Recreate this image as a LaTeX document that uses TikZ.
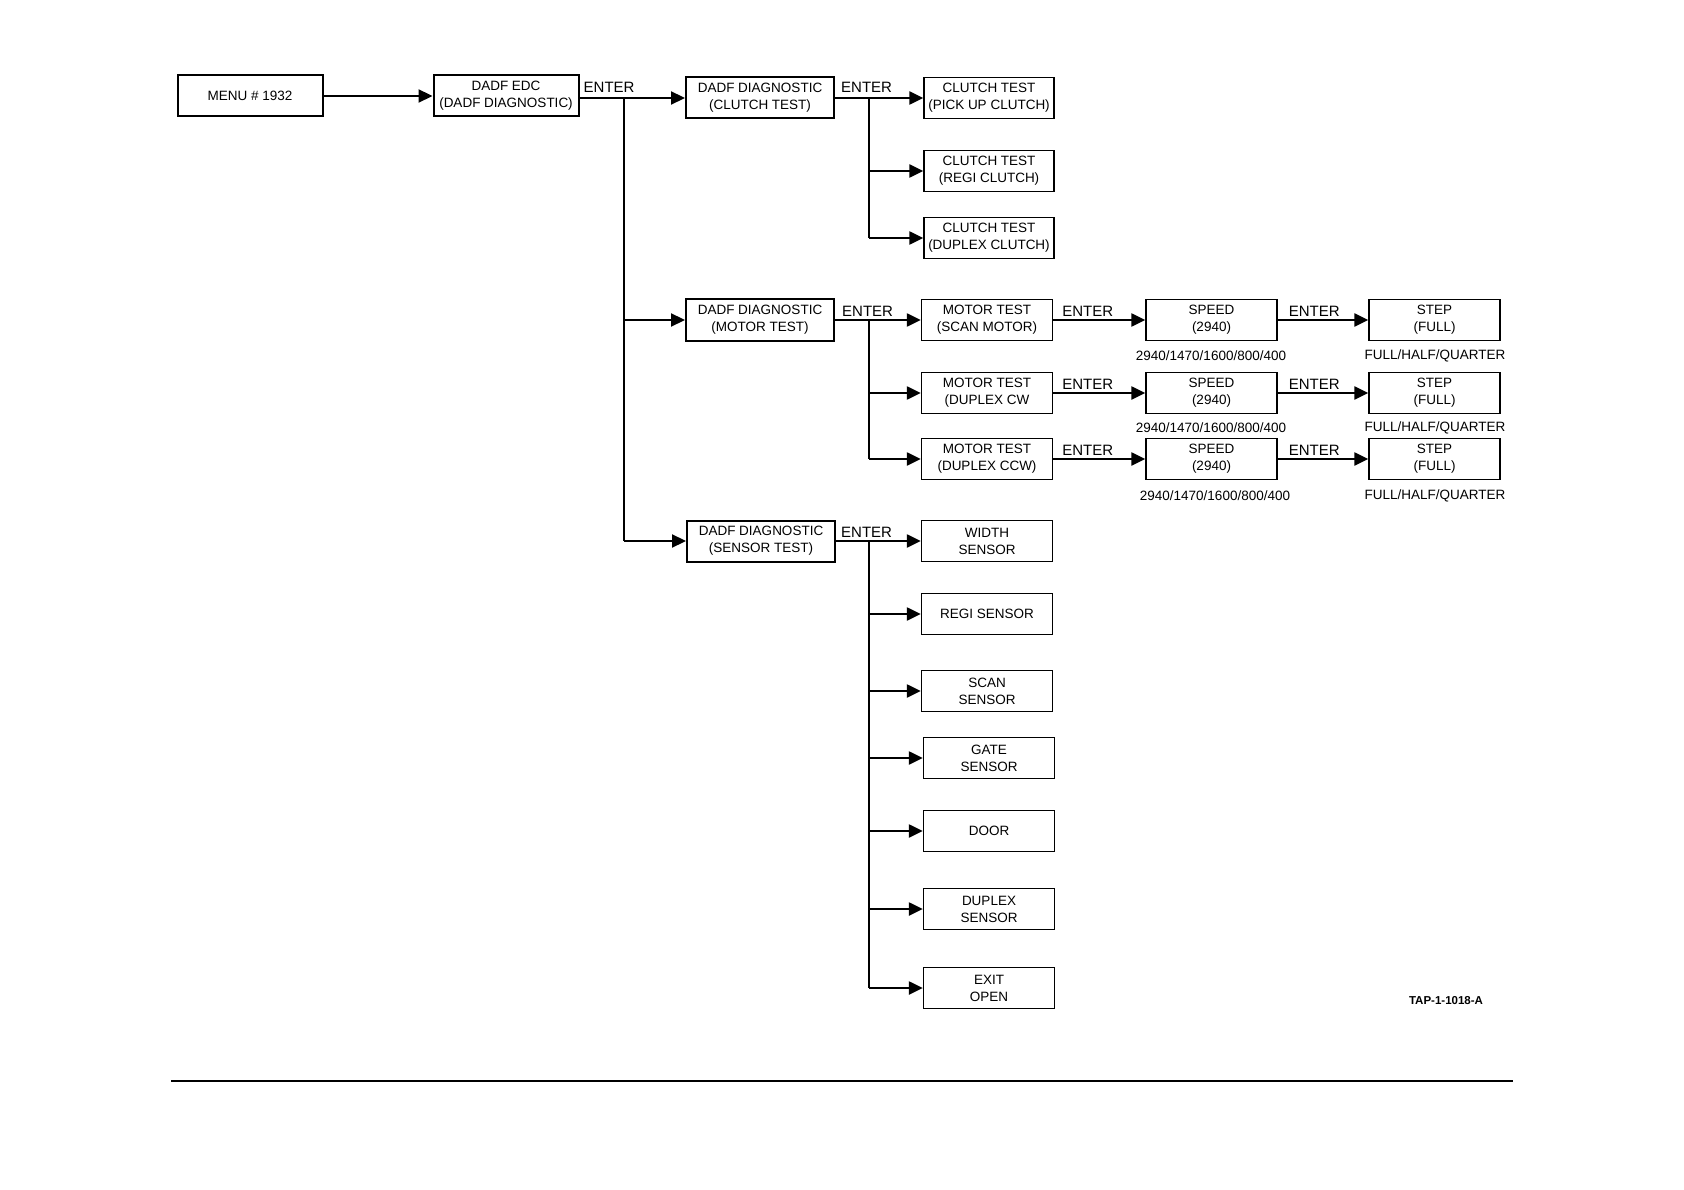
\documentclass[tikz,border=0pt]{standalone}
\usepackage{fontspec}
\setmainfont{Liberation Sans}
\usetikzlibrary{arrows.meta}
\newcommand{\bxf}{\fontsize{13.5}{17}\selectfont}
\newcommand{\enf}{\fontsize{15}{17}\selectfont}
\begin{document}
\begin{tikzpicture}[x=1pt,y=-1pt,
  box/.style={draw, line width=1.3pt, align=center, font=\bxf, inner sep=0pt, minimum height=41pt, minimum width=131pt},
  hbox/.style={box, line width=2pt, minimum width=148pt},
  arr/.style={line width=2.2pt, -{Triangle[length=14pt,width=13pt]}},
  ln/.style={line width=2.2pt},
  ent/.style={font=\enf, anchor=south west, inner sep=0pt},
  sub/.style={font=\bxf, inner sep=0pt}]
\useasboundingbox (0,0) rectangle (1684,1190);
% level nodes
\node[hbox, minimum width=145pt] (menu) at (250,96) {MENU \# 1932};
\node[hbox, minimum width=145pt] (edc) at (506,96) {DADF EDC\\(DADF DIAGNOSTIC)};
\node[hbox] (cd) at (760,98) {DADF DIAGNOSTIC\\(CLUTCH TEST)};
\node[hbox] (md) at (760,320) {DADF DIAGNOSTIC\\(MOTOR TEST)};
\node[hbox] (sd) at (761,541) {DADF DIAGNOSTIC\\(SENSOR TEST)};
% clutch
\node[box, minimum width=130pt] (ct1) at (989,98) {CLUTCH TEST\\(PICK UP CLUTCH)};
\node[box, minimum width=130pt] (ct2) at (989,171) {CLUTCH TEST\\(REGI CLUTCH)};
\node[box, minimum width=130pt] (ct3) at (989,238) {CLUTCH TEST\\(DUPLEX CLUTCH)};
% motor
\node[box] (mt1) at (987,320) {MOTOR TEST\\(SCAN MOTOR)};
\node[box] (mt2) at (987,393) {MOTOR TEST\\(DUPLEX CW};
\node[box] (mt3) at (987,459) {MOTOR TEST\\(DUPLEX CCW)};
\node[box] (sp1) at (1211.5,320) {SPEED\\(2940)};
\node[box] (sp2) at (1211.5,393) {SPEED\\(2940)};
\node[box] (sp3) at (1211.5,459) {SPEED\\(2940)};
\node[box] (st1) at (1434.5,320) {STEP\\(FULL)};
\node[box] (st2) at (1434.5,393) {STEP\\(FULL)};
\node[box] (st3) at (1434.5,459) {STEP\\(FULL)};
\node[sub] (sl1) at (1211,356) {2940/1470/1600/800/400};
\node[sub] (sl2) at (1211,428) {2940/1470/1600/800/400};
\node[sub] (sl3) at (1215,496) {2940/1470/1600/800/400};
\node[sub] (fl1) at (1435,356) {FULL/HALF/QUARTER};
\node[sub] (fl2) at (1435,428) {FULL/HALF/QUARTER};
\node[sub] (fl3) at (1435,496) {FULL/HALF/QUARTER};
% sensors
\node[box] (ws) at (987,541) {WIDTH\\SENSOR};
\node[box] (rs) at (987,614) {REGI SENSOR};
\node[box] (ss) at (987,691) {SCAN\\SENSOR};
\node[box] (gs) at (989,758) {GATE\\SENSOR};
\node[box] (door) at (989,831) {DOOR};
\node[box] (dup) at (989,909) {DUPLEX\\SENSOR};
\node[box] (exit) at (989,988) {EXIT\\OPEN};
% trunk coordinates
\coordinate (t0) at (624,98);
\coordinate (c0) at (869,98);
\coordinate (m0) at (869,320);
\coordinate (s0) at (869,541);
% connectors
\draw[arr] (menu.east) -- (menu.east -| edc.west);
\draw[arr] (edc.east |- cd.west) -- (cd.west);
\draw[ln] (t0) -- (t0 |- sd.west);
\draw[arr] (t0 |- md.west) -- (md.west);
\draw[arr] (t0 |- sd.west) -- (sd.west);
% clutch branch
\draw[arr] (cd.east) -- (ct1.west);
\draw[ln] (c0) -- (c0 |- ct3.west);
\draw[arr] (c0 |- ct2.west) -- (ct2.west);
\draw[arr] (c0 |- ct3.west) -- (ct3.west);
% motor branch
\draw[arr] (md.east) -- (mt1.west);
\draw[ln] (m0) -- (m0 |- mt3.west);
\draw[arr] (m0 |- mt2.west) -- (mt2.west);
\draw[arr] (m0 |- mt3.west) -- (mt3.west);
\foreach \i in {1,2,3}{
  \draw[arr] (mt\i.east) -- (sp\i.west);
  \draw[arr] (sp\i.east) -- (st\i.west);
  \node[ent] at ([xshift=9pt,yshift=3pt]mt\i.east) {ENTER};
  \node[ent] at ([xshift=11pt,yshift=3pt]sp\i.east) {ENTER};
}
% sensor branch
\draw[arr] (sd.east) -- (ws.west);
\draw[ln] (s0) -- (s0 |- exit.west);
\foreach \n in {rs,ss,gs,door,dup,exit}{
  \draw[arr] (s0 |- \n.west) -- (\n.west);
}
% ENTER labels
\node[ent] at ([xshift=4pt,yshift=3pt]edc.east) {ENTER};
\node[ent] at ([xshift=6pt,yshift=5pt]cd.east) {ENTER};
\node[ent] at ([xshift=7pt,yshift=3pt]md.east) {ENTER};
\node[ent] at ([xshift=5pt,yshift=3pt]sd.east) {ENTER};
% footer
\node[font=\bfseries\fontsize{11.5}{13}\selectfont, inner sep=0pt] (tap) at (1446,1001) {TAP-1-1018-A};
\coordinate (r0) at (171,1081);
\coordinate (r1) at (1513,1081);
\draw[line width=1.5pt] (r0) -- (r1);
\end{tikzpicture}
\end{document}
